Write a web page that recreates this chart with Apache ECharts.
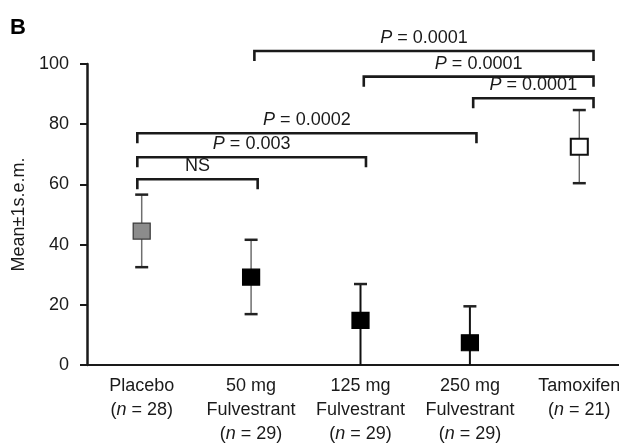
<!DOCTYPE html>
<html>
<head>
<meta charset="utf-8">
<style>html,body{margin:0;padding:0;background:#fff;overflow:hidden;}#c{width:634px;height:446px;}</style>
<script src="https://cdn.jsdelivr.net/npm/echarts@6/dist/echarts.min.js"></script>
</head>
<body>
<div id="c"></div>
<script>
// ---- data ----
const groupNames = ['Placebo', '50 mg\nFulvestrant', '125 mg\nFulvestrant', '250 mg\nFulvestrant', 'Tamoxifen'];
const groupN = [28, 29, 29, 29, 21];
const means = [44.5, 29.2, 14.8, 7.4, 72.5];
const upper = [56.6, 41.6, 26.9, 19.5, 84.7];
const lower = [32.5, 16.9, 0, 0, 60.4];
const yTicks = [0, 20, 40, 60, 80, 100];
// comparison brackets (x in group-index units, level in y units)
const bracketFrom = [1.03, 2.03, 3.03, -0.04, -0.04, -0.04];
const bracketTo = [4.13, 4.13, 4.13, 3.06, 2.05, 1.06];
const bracketLevel = [104.3, 95.8, 88.6, 77.0, 69.0, 61.7];
const bracketP = ['0.0001', '0.0001', '0.0001', '0.0002', '0.003', 'NS'];

// ---- styles ----
const FONT = "'Liberation Sans', Arial, Helvetica, sans-serif";
const INK = '#1a1a1a';
const markerFill = ['#8c8c8c', '#000000', '#000000', '#000000', '#ffffff'];
const markerBorder = ['#3a3a3a', '#000000', '#000000', '#000000', '#111111'];
const barColor = ['#6e6e6e', '#6e6e6e', '#111111', '#111111', '#666666'];
const barWidth = [1.5, 1.5, 2, 2, 1.4];

const chart = echarts.init(document.getElementById('c'), null, {renderer: 'canvas'});

const option = {
  animation: false,
  backgroundColor: '#ffffff',
  grid: {left: 87, right: 0, top: 64, bottom: 75, containLabel: false},
  graphic: [{
    type: 'text', left: 10, top: 17,
    style: {text: 'B', font: 'bold 22px ' + FONT, fill: '#000'}
  }],
  xAxis: [{
    type: 'category',
    data: groupNames,
    boundaryGap: true,
    axisLine: {show: true, onZero: false, lineStyle: {color: INK, width: 2}},
    axisTick: {show: false},
    splitLine: {show: false},
    axisLabel: {
      interval: 0,
      margin: 9,
      color: INK,
      fontSize: 18,
      fontFamily: FONT,
      lineHeight: 24,
      formatter: function (v, i) {
        return v + '\n({i|n} = ' + groupN[i] + ')';
      },
      rich: {
        i: {fontStyle: 'italic', fontSize: 18, fontFamily: FONT, color: INK, lineHeight: 24}
      }
    }
  }, {
    type: 'value',
    min: -0.5, max: 4.5,
    show: false
  }],
  yAxis: {
    type: 'value',
    min: 0, max: 100, interval: 20,
    name: 'Mean±1s.e.m.',
    nameLocation: 'middle',
    nameGap: 56,
    nameTextStyle: {fontSize: 18, fontFamily: FONT, color: INK},
    axisLine: {show: true, onZero: false, lineStyle: {color: INK, width: 2.5}},
    axisTick: {show: true, inside: false, length: 7, lineStyle: {color: INK, width: 2}},
    splitLine: {show: false},
    axisLabel: {
      margin: 18, color: INK, fontSize: 18, fontFamily: FONT,
      customValues: yTicks
    }
  },
  series: [
    {
      type: 'custom',
      name: 'errorbars',
      xAxisIndex: 0,
      clip: false,
      z: 2,
      data: means.map((m, i) => [i, lower[i], upper[i]]),
      encode: {x: 0, y: [1, 2]},
      renderItem: function (params, api) {
        const i = api.value(0);
        const lo = api.value(1), hi = api.value(2);
        const pLo = api.coord([i, lo]);
        const pHi = api.coord([i, hi]);
        const capW = 13;
        const children = [{
          type: 'line',
          shape: {x1: pHi[0], y1: pHi[1], x2: pLo[0], y2: pLo[1]},
          style: {stroke: barColor[i], lineWidth: barWidth[i]}
        }, {
          type: 'line',
          shape: {x1: pHi[0] - capW / 2, y1: pHi[1], x2: pHi[0] + capW / 2, y2: pHi[1]},
          style: {stroke: '#222', lineWidth: 2.5}
        }];
        if (lo > 0) {
          children.push({
            type: 'line',
            shape: {x1: pLo[0] - capW / 2, y1: pLo[1], x2: pLo[0] + capW / 2, y2: pLo[1]},
            style: {stroke: '#222', lineWidth: 2.5}
          });
        }
        return {type: 'group', children: children};
      }
    },
    {
      type: 'scatter',
      name: 'means',
      xAxisIndex: 0,
      z: 5,
      symbol: 'rect',
      symbolSize: [17, 16],
      data: means.map((m, i) => ({
        value: [i, m],
        itemStyle: {opacity: 1, color: markerFill[i], borderColor: markerBorder[i], borderWidth: i === 4 ? 2 : 1.2}
      }))
    },
    {
      type: 'custom',
      name: 'brackets',
      xAxisIndex: 1,
      clip: false,
      z: 3,
      data: bracketLevel.map((lv, k) => [bracketFrom[k], bracketTo[k], lv, k]),
      encode: {x: [0, 1], y: 2},
      renderItem: function (params, api) {
        const k = api.value(3);
        const a = api.coord([api.value(0), api.value(2)]);
        const b = api.coord([api.value(1), api.value(2)]);
        const drop = 10;
        const label = bracketP[k] === 'NS' ? 'NS' : '{i|P} = ' + bracketP[k];
        return {
          type: 'group',
          children: [{
            type: 'polyline',
            shape: {points: [[a[0], a[1] + drop], [a[0], a[1]], [b[0], b[1]], [b[0], b[1] + drop]]},
            style: {stroke: INK, lineWidth: 2.6, fill: null, lineJoin: 'miter'}
          }, {
            type: 'text',
            style: {
              text: label,
              x: (a[0] + b[0]) / 2,
              y: a[1] - 4,
              align: 'center',
              verticalAlign: 'bottom',
              fontSize: 18,
              fontFamily: FONT,
              fill: INK,
              rich: {i: {fontStyle: 'italic', fontSize: 18, fontFamily: FONT, fill: INK}}
            }
          }]
        };
      }
    }
  ]
};
chart.setOption(option);
</script>
</body>
</html>
